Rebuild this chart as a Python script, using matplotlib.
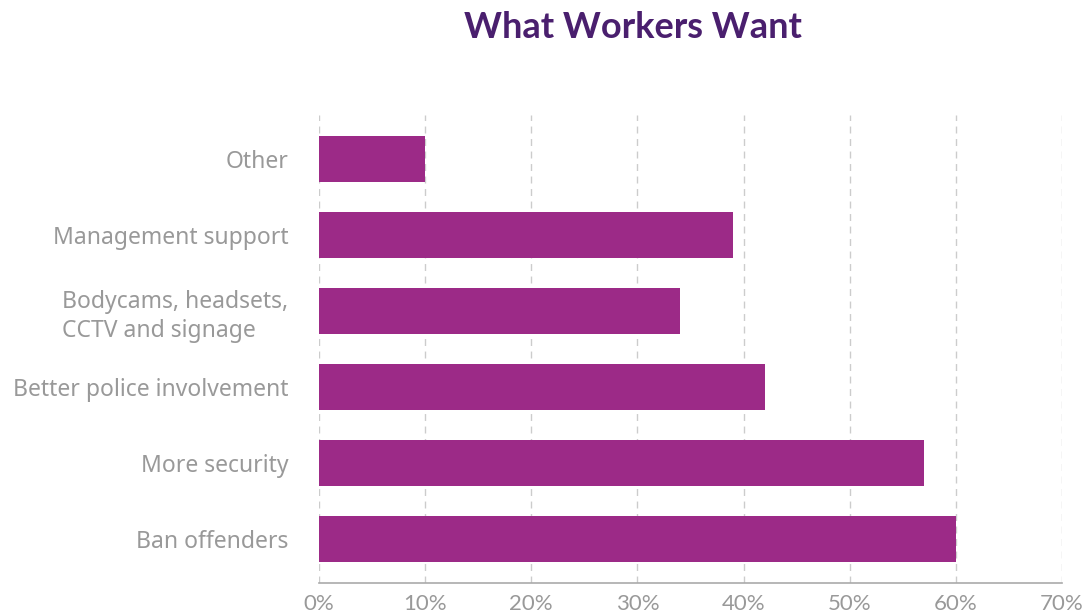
import matplotlib
matplotlib.use("Agg")
import matplotlib.pyplot as plt
from matplotlib.ticker import FuncFormatter

# data, bottom to top
categories = ["Ban offenders", "More security", "Better police involvement",
              "Bodycams, headsets,\nCCTV and signage", "Management support", "Other"]
percent = [60, 57, 42, 34, 39, 10]
x_ticks = [0, 10, 20, 30, 40, 50, 60, 70]

bar_color = "#9C2A87"
title_color = "#4A1F6E"
label_color = "#999999"

plt.rcParams["font.family"] = ["Lato", "DejaVu Sans"]

fig = plt.figure(figsize=(10.89, 6.15), dpi=100)
ax = fig.add_axes([319 / 1089, 32 / 615, (1062 - 319) / 1089, (583 - 115) / 615])

ypos = list(range(len(categories)))
ax.barh(ypos, percent, height=0.6, color=bar_color, zorder=3)

ax.set_xlim(0, 70)
ax.set_ylim(-0.58, len(categories) - 1 + 0.58)
ax.set_xticks(x_ticks)
ax.xaxis.set_major_formatter(FuncFormatter(lambda v, p: f"{int(v)}%"))
ax.set_yticks(ypos)
ax.set_yticklabels(categories, linespacing=1.25, family=["Noto Sans", "DejaVu Sans"])
for lbl in ax.get_yticklabels():
    lbl.set_multialignment("left")

ax.tick_params(axis="y", length=0, pad=22, labelsize=16.5, labelcolor=label_color)
ax.tick_params(axis="x", length=0, pad=8, labelsize=16, labelcolor=label_color)

ax.grid(axis="x", color="#cccccc", linestyle=(0, (5, 4)), linewidth=1, zorder=0)
for side in ["top", "right", "left"]:
    ax.spines[side].set_visible(False)
ax.spines["bottom"].set_color("#aaaaaa")
ax.spines["bottom"].set_linewidth(1.2)

fig.text(633 / 1089, 1 - 28 / 615, "What Workers Want", ha="center", va="center",
         fontsize=26, fontweight="bold", color=title_color)

fig.savefig("out.png", dpi=100)
